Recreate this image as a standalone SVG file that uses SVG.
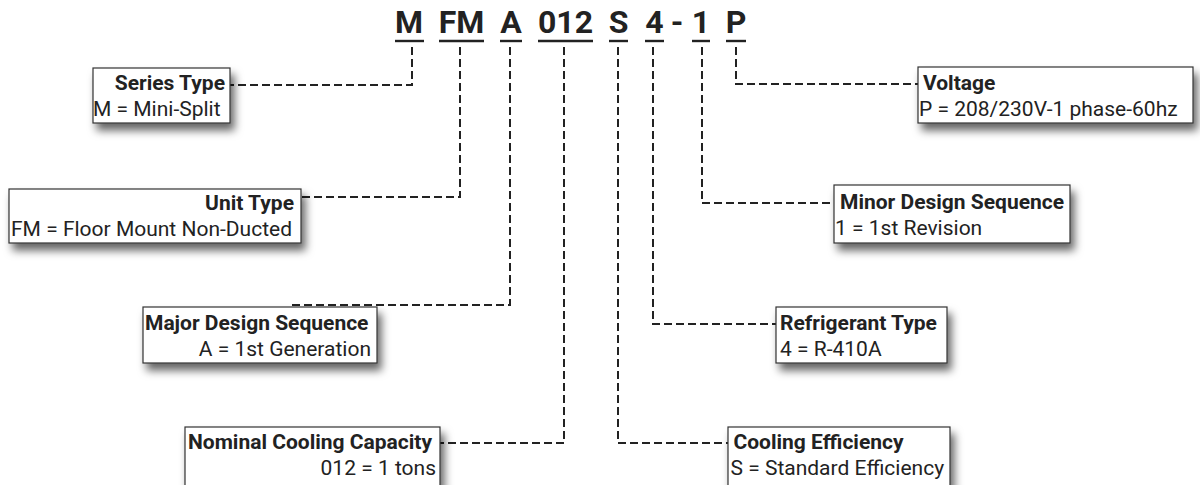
<svg xmlns="http://www.w3.org/2000/svg" width="1200" height="485" viewBox="0 0 1200 485">
<defs>
<filter id="sh" x="-10%" y="-20%" width="130%" height="170%">
<feDropShadow dx="4" dy="7" stdDeviation="4" flood-color="#000" flood-opacity="0.6"/>
</filter>
<style>
.code{font-family:Roboto,"Liberation Sans",sans-serif;font-weight:bold;font-size:32px;fill:#222;text-anchor:middle}
.ul{stroke:#222;stroke-width:2.4}
.dash{fill:none;stroke:#222;stroke-width:2;stroke-dasharray:8 4}
.box{fill:#fff;stroke:#333;stroke-width:1.2;filter:url(#sh)}
.t{font-family:Roboto,"Liberation Sans",sans-serif;font-weight:bold;font-size:21px;fill:#222}
.v{font-family:Roboto,"Liberation Sans",sans-serif;font-size:21px;fill:#222}
.r{text-anchor:end}
</style>
</defs>
<rect width="1200" height="485" fill="#fff"/>
<g id="code">
<text class="code" x="409" y="32.5">M</text>
<text class="code" x="461.5" y="32.5">FM</text>
<text class="code" x="511" y="32.5">A</text>
<text class="code" x="565.5" y="32.5">012</text>
<text class="code" x="618.5" y="32.5">S</text>
<text class="code" x="654.5" y="32.5">4</text>
<text class="code" x="677" y="32.5">-</text>
<text class="code" x="701" y="32.5">1</text>
<text class="code" x="736" y="32.5">P</text>
<line class="ul" x1="395" y1="41" x2="424" y2="41"/>
<line class="ul" x1="439" y1="41" x2="484" y2="41"/>
<line class="ul" x1="500" y1="41" x2="522" y2="41"/>
<line class="ul" x1="538" y1="41" x2="593" y2="41"/>
<line class="ul" x1="609" y1="41" x2="628" y2="41"/>
<line class="ul" x1="645" y1="41" x2="664" y2="41"/>
<line class="ul" x1="692" y1="41" x2="710" y2="41"/>
<line class="ul" x1="726" y1="41" x2="746" y2="41"/>
</g>
<g id="connectors">
<polyline class="dash" points="412,47 412,85 230,85"/>
<polyline class="dash" points="460,47 460,197 301,197"/>
<polyline class="dash" points="510,47 510,305 288,305"/>
<polyline class="dash" points="564,47 564,443 440,443"/>
<polyline class="dash" points="618,47 618,443 728,443"/>
<polyline class="dash" points="653,47 653,324 776,324"/>
<polyline class="dash" points="702,47 702,203 834,203"/>
<polyline class="dash" points="736,47 736,84 918,84"/>
</g>
<g id="series-type">
<rect class="box" x="93" y="68" width="137" height="55"/>
<text class="t r" x="225" y="90">Series Type</text>
<text class="v" x="93" y="116">M = Mini-Split</text>
</g>
<g id="unit-type">
<rect class="box" x="9" y="189" width="292" height="54"/>
<text class="t r" x="294" y="210">Unit Type</text>
<text class="v" x="11" y="236">FM = Floor Mount Non-Ducted</text>
</g>
<g id="major-design">
<rect class="box" x="143" y="307" width="234" height="56"/>
<text class="t" x="145" y="330">Major Design Sequence</text>
<text class="v r" x="371" y="356">A = 1st Generation</text>
</g>
<g id="nominal-capacity">
<rect class="box" x="185" y="427" width="255" height="60"/>
<text class="t" x="188" y="449">Nominal Cooling Capacity</text>
<text class="v r" x="436" y="475">012 = 1 tons</text>
</g>
<g id="cooling-efficiency">
<rect class="box" x="728" y="427" width="222" height="60"/>
<text class="t" x="733.5" y="449">Cooling Efficiency</text>
<text class="v" x="730.5" y="475">S = Standard Efficiency</text>
</g>
<g id="refrigerant-type">
<rect class="box" x="776" y="307" width="171" height="56"/>
<text class="t" x="780" y="330">Refrigerant Type</text>
<text class="v" x="780" y="356">4 = R-410A</text>
</g>
<g id="minor-design">
<rect class="box" x="834" y="185" width="236" height="58"/>
<text class="t" x="840" y="209">Minor Design Sequence</text>
<text class="v" x="835" y="235">1 = 1st Revision</text>
</g>
<g id="voltage">
<rect class="box" x="918" y="67" width="275" height="56"/>
<text class="t" x="923" y="90">Voltage</text>
<text class="v" x="919" y="116">P = 208/230V-1 phase-60hz</text>
</g>
</svg>
